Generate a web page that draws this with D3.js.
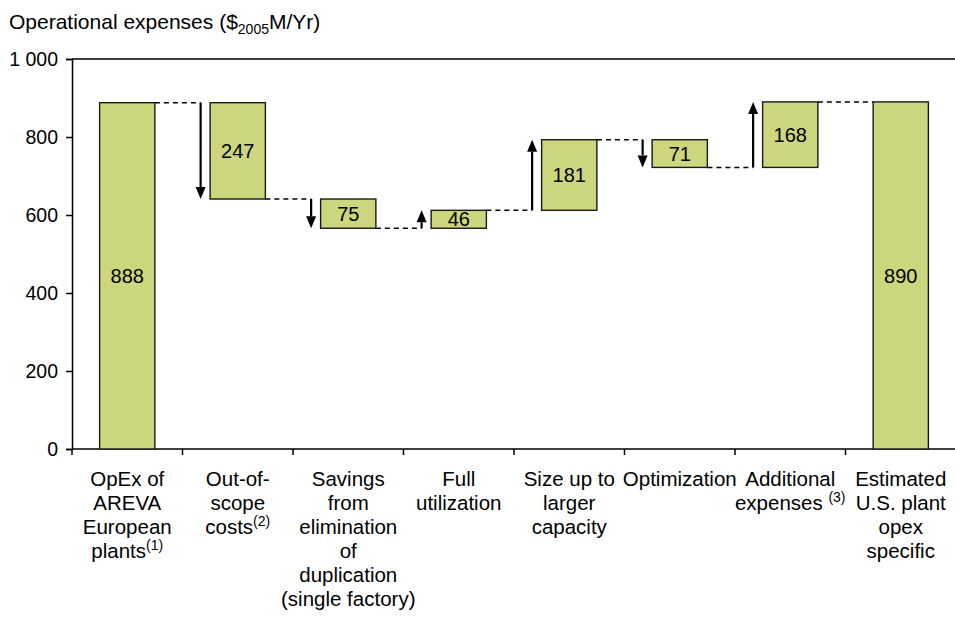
<!DOCTYPE html>
<html>
<head>
<meta charset="utf-8">
<script src="https://cdn.jsdelivr.net/npm/d3@7"></script>
<style>
  body { margin: 0; background: #fff; }
  svg { font-family: "Liberation Sans", Arial, sans-serif; }
</style>
</head>
<body>
<div id="chart"></div>
<script>
// categories, label lines (sup = superscript note), and the step values
const categories = ['opex', 'scope', 'savings', 'full', 'size', 'optim', 'additional', 'estimated'];
const labelLines = [
  [['OpEx of'], ['AREVA'], ['European'], ['plants', '(1)']],
  [['Out-of-'], ['scope'], ['costs', '(2)']],
  [['Savings'], ['from'], ['elimination'], ['of'], ['duplication'], ['(single factory)']],
  [['Full'], ['utilization']],
  [['Size up to'], ['larger'], ['capacity']],
  [['Optimization']],
  [['Additional'], ['expenses ', '(3)']],
  [['Estimated'], ['U.S. plant'], ['opex'], ['specific']]
];
const deltas = [888, -247, -75, 46, 181, -71, 168, 890];
const kinds = ['total', 'delta', 'delta', 'delta', 'delta', 'delta', 'delta', 'total'];
const yTicks = [0, 200, 400, 600, 800, 1000];

function initWaterfall(divId) {
  const width = 955, height = 617;
  const left = 72, right = 956, top = 59, bottom = 449;
  const barColor = '#cdd57d';

  const svg = d3.select('#' + divId).append('svg')
    .attr('width', width).attr('height', height);

  const x = d3.scaleBand().domain(categories).range([left, right]).padding(0);
  const y = d3.scaleLinear().domain([0, 1000]).range([bottom, top]);
  const fmt = d3.formatLocale({decimal: '.', thousands: ' ', grouping: [3], currency: ['$', '']}).format(',');

  // running totals
  let run = 0;
  const steps = deltas.map(function(v, i) {
    let start, end;
    if (kinds[i] === 'total') { start = 0; end = v; run = v; }
    else { start = run; end = run + v; run = end; }
    return {cat: categories[i], v: v, start: start, end: end, kind: kinds[i]};
  });

  // title
  const title = svg.append('text').attr('x', 9).attr('y', 29)
    .style('font-size', '21px').attr('fill', '#000');
  title.append('tspan').text('Operational expenses ($');
  title.append('tspan').attr('dy', 5).style('font-size', '14px').text('2005');
  title.append('tspan').attr('dy', -5).text('M/Yr)');

  // top frame line
  svg.append('line').attr('x1', left).attr('x2', right).attr('y1', top).attr('y2', top)
    .attr('stroke', '#000').attr('stroke-width', 1.5);

  // y axis
  const yAxis = svg.append('g').attr('transform', 'translate(' + left + ',0)')
    .call(d3.axisLeft(y).tickValues(yTicks).tickSize(6).tickPadding(8).tickFormat(fmt));
  yAxis.select('.domain').attr('stroke-width', 1.5);
  yAxis.selectAll('.tick line').attr('stroke-width', 1.5);
  yAxis.selectAll('.tick text').style('font-size', '19.5px').attr('fill', '#000')
    .attr('font-family', '"Liberation Sans", Arial, sans-serif');

  // x axis line and ticks at band edges
  svg.append('line').attr('x1', left).attr('x2', right).attr('y1', bottom).attr('y2', bottom)
    .attr('stroke', '#000').attr('stroke-width', 1.5);
  svg.selectAll('.xtick').data(categories).enter().append('line')
    .attr('x1', function(d) { return x(d); }).attr('x2', function(d) { return x(d); })
    .attr('y1', bottom).attr('y2', bottom + 6)
    .attr('stroke', '#000').attr('stroke-width', 1.5);

  // category labels
  const lab = svg.selectAll('.cat').data(labelLines).enter().append('text')
    .attr('text-anchor', 'middle').style('font-size', '20.5px').attr('fill', '#000')
    .attr('x', function(d, i) { return x(categories[i]) + x.bandwidth() / 2; })
    .attr('y', 486);
  lab.each(function(lines, i) {
    const t = d3.select(this);
    const cx = x(categories[i]) + x.bandwidth() / 2;
    lines.forEach(function(parts, j) {
      t.append('tspan').attr('x', cx).attr('dy', j === 0 ? 0 : 24).text(parts[0]);
      if (parts[1]) {
        t.append('tspan').attr('dy', -8).style('font-size', '14px').text(parts[1]);
        t.append('tspan').attr('dy', 8).text('');
      }
    });
  });

  const bw = x.bandwidth() * 0.5;
  const barX = function(d) { return x(d.cat) + (x.bandwidth() - bw) / 2; };

  // connectors and arrows
  steps.forEach(function(d, i) {
    if (i === 0) return;
    const prev = steps[i - 1];
    const prevRight = barX(prev) + bw;
    const level = y(prev.end);
    const ax = barX(d) - 9.5;
    const xEnd = d.kind === 'total' ? barX(d) : ax;
    svg.append('line').attr('x1', prevRight).attr('x2', xEnd)
      .attr('y1', level).attr('y2', level)
      .attr('stroke', '#000').attr('stroke-width', 1.5).attr('stroke-dasharray', '5,4');
    if (d.kind === 'delta') {
      const y0 = y(d.start), y1 = y(d.end);
      const dir = y1 < y0 ? 1 : -1; // 1 = arrow pointing up
      const head = 12;
      svg.append('line').attr('x1', ax).attr('x2', ax)
        .attr('y1', y0).attr('y2', y1 + dir * head)
        .attr('stroke', '#000').attr('stroke-width', 2.2);
      svg.append('path')
        .attr('d', 'M' + ax + ',' + y1 + 'L' + (ax - 5) + ',' + (y1 + dir * head) +
          'L' + (ax + 5) + ',' + (y1 + dir * head) + 'Z')
        .attr('fill', '#000');
    }
  });

  // bars
  svg.selectAll('.bar').data(steps).enter().append('rect')
    .attr('x', barX)
    .attr('y', function(d) { return y(Math.max(d.start, d.end)); })
    .attr('width', bw)
    .attr('height', function(d) { return Math.abs(y(d.start) - y(d.end)); })
    .attr('fill', barColor).attr('stroke', '#1a1a1a').attr('stroke-width', 1.4);

  // value labels
  svg.selectAll('.val').data(steps).enter().append('text')
    .attr('x', function(d) { return barX(d) + bw / 2; })
    .attr('y', function(d) { return (y(d.start) + y(d.end)) / 2; })
    .attr('dy', '0.36em').attr('text-anchor', 'middle')
    .style('font-size', '20px').attr('fill', '#000')
    .text(function(d) { return Math.abs(d.v); });
}

initWaterfall('chart');
</script>
</body>
</html>
